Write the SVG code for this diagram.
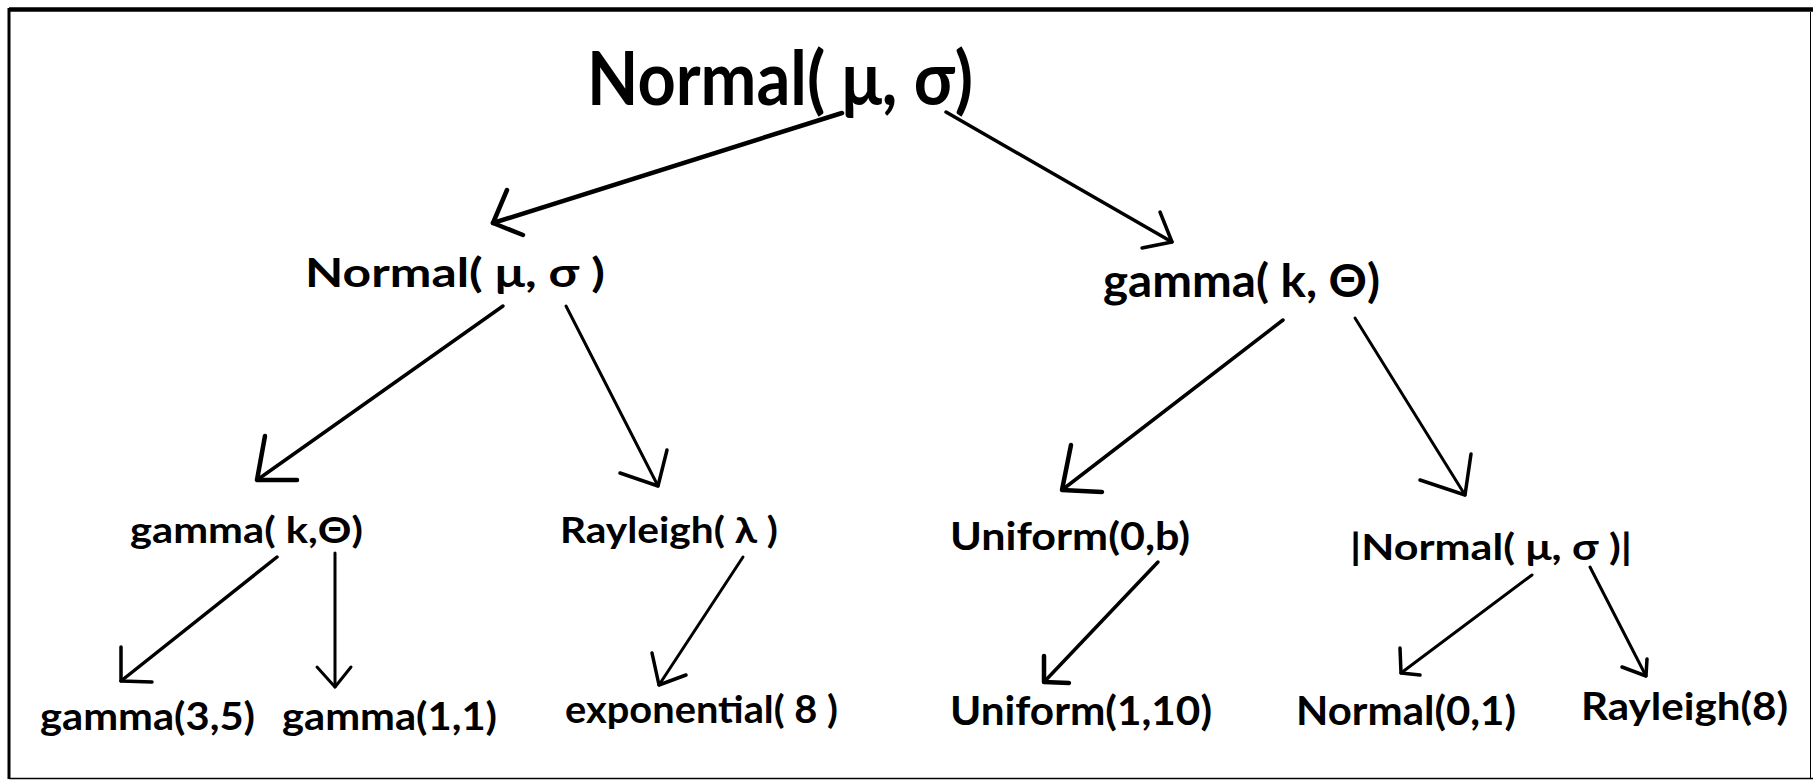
<svg xmlns="http://www.w3.org/2000/svg" width="1813" height="783" viewBox="0 0 1813 783">
  <style>
    .lbl { font-family: "Lato", "Open Sans", "Liberation Sans", sans-serif; font-weight: bold; fill: #000; }
    .edge { fill: none; stroke: #000; stroke-width: 3.5; stroke-linecap: round; stroke-linejoin: round; }
    .thin { stroke-width: 3; }
    .heavy { stroke-width: 4.5; }
    .frame { stroke: #000; fill: none; }
  </style>

  <rect x="0" y="0" width="1813" height="783" fill="#fff"/>

  <!-- frame -->
  <g id="frame">
    <line class="frame" x1="9" y1="9.5" x2="1813" y2="9.5" stroke-width="4.5"/>
    <line class="frame" x1="9" y1="8" x2="9" y2="779" stroke-width="3"/>
    <line class="frame" x1="9" y1="778.5" x2="1813" y2="778.5" stroke-width="1.5" stroke="#555"/>
    <line class="frame" x1="1810.5" y1="12" x2="1810.5" y2="778" stroke-width="1" stroke="#ddd"/>
  </g>

  <!-- connectors: shaft plus hand-drawn open arrowhead -->
  <g id="connectors">
    <!-- root to left Normal -->
    <line class="edge heavy" x1="842" y1="113" x2="493" y2="223"/>
    <polyline class="edge heavy" points="507,190 493,223 523,235"/>
    <!-- root to right gamma -->
    <line class="edge" x1="946" y1="112" x2="1172" y2="242"/>
    <polyline class="edge" points="1160,212 1172,242 1142,248"/>

    <!-- left Normal to gamma -->
    <line class="edge" x1="503" y1="306" x2="257" y2="480"/>
    <polyline class="edge heavy" points="265,436 257,480 297,480"/>
    <!-- left Normal to Rayleigh -->
    <line class="edge thin" x1="566" y1="306" x2="658" y2="486"/>
    <polyline class="edge" points="667,450 658,486 620,473"/>

    <!-- right gamma to Uniform -->
    <line class="edge" x1="1283" y1="320" x2="1062" y2="490"/>
    <polyline class="edge heavy" points="1071,445 1062,490 1102,492"/>
    <!-- right gamma to |Normal| -->
    <line class="edge thin" x1="1355" y1="318" x2="1465" y2="495"/>
    <polyline class="edge" points="1471,454 1465,495 1420,480"/>

    <!-- gamma to gamma(3,5) -->
    <line class="edge" x1="277" y1="557" x2="121" y2="681"/>
    <polyline class="edge" points="121,647 121,681 152,682"/>
    <!-- gamma to gamma(1,1) -->
    <line class="edge thin" x1="335" y1="553" x2="335" y2="687"/>
    <polyline class="edge thin" points="317,667 335,687 351,667"/>

    <!-- Rayleigh to exponential -->
    <line class="edge thin" x1="743" y1="557" x2="659" y2="685"/>
    <polyline class="edge" points="652,653 659,685 686,675"/>

    <!-- Uniform(0,b) to Uniform(1,10) -->
    <line class="edge" x1="1158" y1="562" x2="1044" y2="682"/>
    <polyline class="edge heavy" points="1044,656 1044,682 1069,683"/>

    <!-- |Normal| to Normal(0,1) -->
    <line class="edge thin" x1="1532" y1="575" x2="1401" y2="673"/>
    <polyline class="edge" points="1400,648 1401,673 1420,675"/>
    <!-- |Normal| to Rayleigh(8) -->
    <line class="edge thin" x1="1590" y1="567" x2="1646" y2="676"/>
    <polyline class="edge" points="1647,659 1646,676 1622,667"/>
  </g>

  <!-- level 0 -->
  <g id="n-root">
    <text class="lbl" x="587" y="105" font-size="75" textLength="386" lengthAdjust="spacingAndGlyphs">Normal( μ, σ)</text>
  </g>

  <!-- level 1 -->
  <g id="n-normal">
    <text class="lbl" x="305" y="287" font-size="40" textLength="300" lengthAdjust="spacingAndGlyphs">Normal( μ, σ )</text>
  </g>
  <g id="n-gamma">
    <text class="lbl" x="1103" y="297" font-size="45" textLength="277" lengthAdjust="spacingAndGlyphs">gamma( k, Θ)</text>
  </g>

  <!-- level 2 -->
  <g id="n-gamma-kt">
    <text class="lbl" x="130" y="543" font-size="37" textLength="233" lengthAdjust="spacingAndGlyphs">gamma( k,Θ)</text>
  </g>
  <g id="n-rayleigh">
    <text class="lbl" x="560" y="543" font-size="37" textLength="218" lengthAdjust="spacingAndGlyphs">Rayleigh( λ )</text>
  </g>
  <g id="n-uniform">
    <text class="lbl" x="950" y="550" font-size="39" textLength="240" lengthAdjust="spacingAndGlyphs">Uniform(0,b)</text>
  </g>
  <g id="n-absnormal">
    <text class="lbl" x="1350" y="560" font-size="36" textLength="282" lengthAdjust="spacingAndGlyphs">|Normal( μ, σ )|</text>
  </g>

  <!-- level 3 -->
  <g id="n-gamma-35">
    <text class="lbl" x="40" y="730" font-size="38" textLength="215" lengthAdjust="spacingAndGlyphs">gamma(3,5)</text>
  </g>
  <g id="n-gamma-11">
    <text class="lbl" x="282" y="730" font-size="38" textLength="215" lengthAdjust="spacingAndGlyphs">gamma(1,1)</text>
  </g>
  <g id="n-exponential">
    <text class="lbl" x="565" y="723" font-size="38" textLength="273" lengthAdjust="spacingAndGlyphs">exponential( 8 )</text>
  </g>
  <g id="n-uniform-110">
    <text class="lbl" x="950" y="725" font-size="41" textLength="262" lengthAdjust="spacingAndGlyphs">Uniform(1,10)</text>
  </g>
  <g id="n-normal-01">
    <text class="lbl" x="1296" y="725" font-size="41" textLength="220" lengthAdjust="spacingAndGlyphs">Normal(0,1)</text>
  </g>
  <g id="n-rayleigh-8">
    <text class="lbl" x="1581" y="720" font-size="38" textLength="207" lengthAdjust="spacingAndGlyphs">Rayleigh(8)</text>
  </g>
</svg>
